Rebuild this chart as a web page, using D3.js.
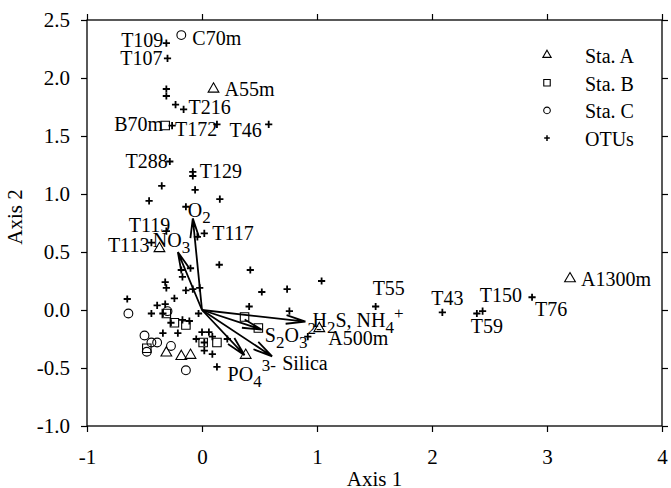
<!DOCTYPE html>
<html>
<head>
<meta charset="utf-8">
<script src="https://cdn.jsdelivr.net/npm/d3@7"></script>
<style>
  body { margin: 0; background: #fff; }
  text { font-family: "Liberation Serif", "DejaVu Serif", serif; fill: #000; }
</style>
</head>
<body>
<div id="chart-area"></div>
<script>
const WIDTH = 671;
const HEIGHT = 488;

// sample scores (Axis 1, Axis 2)
const staA = [[0.10, 1.905], [3.20, 0.27], [1.02, -0.16], [-0.37, 0.53],
  [-0.31, -0.37], [-0.18, -0.40], [-0.10, -0.39], [0.38, -0.39]];
const staB = [[-0.32, 1.59], [0.37, -0.06], [0.49, -0.155], [-0.31, -0.03],
  [-0.24, -0.11], [-0.14, -0.13], [0.01, -0.28], [0.13, -0.28], [-0.48, -0.33]];
const staC = [[-0.18, 2.37], [-0.64, -0.03], [-0.50, -0.22], [-0.44, -0.28],
  [-0.39, -0.28], [-0.48, -0.36], [-0.27, -0.31], [-0.14, -0.52], [-0.30, -0.01]];
const otus = [[-0.31, 2.30], [-0.30, 2.17], [-0.31, 1.905], [-0.31, 1.845], [-0.23, 1.77],
  [-0.16, 1.73], [-0.26, 1.59], [0.13, 1.60], [0.58, 1.60], [-0.28, 1.28], [-0.08, 1.19],
  [-0.08, 1.155], [-0.35, 1.07], [-0.06, 1.035], [-0.46, 0.94], [0.155, 0.955], [-0.14, 0.89],
  [-0.31, 0.68], [-0.44, 0.58], [0.02, 0.66], [-0.04, 0.63], [0.15, 0.39], [0.42, 0.345],
  [0.52, 0.155], [0.74, 0.18], [1.04, 0.25], [0.41, 0.03], [0.76, -0.01], [-0.65, 0.095],
  [-0.18, 0.345], [-0.17, 0.285], [-0.10, 0.36], [-0.32, 0.24], [-0.31, 0.19], [-0.24, 0.10],
  [-0.14, 0.17], [-0.08, 0.18], [-0.02, 0.19], [-0.32, 0.05], [-0.39, 0.04], [-0.44, -0.03],
  [-0.34, -0.03], [-0.03, -0.03], [-0.27, -0.11], [-0.11, -0.095], [-0.34, -0.20],
  [-0.21, -0.20], [0.00, -0.19], [0.06, -0.19], [-0.05, -0.25], [0.02, -0.28], [0.22, -0.25],
  [0.02, -0.35], [0.09, -0.38], [0.13, -0.49], [0.92, -0.23], [1.51, 0.03], [2.09, -0.02],
  [2.39, -0.03], [2.44, -0.01], [2.87, 0.11], [0.09, -0.23], [-0.17, -0.085]];

// environmental vectors
const vectors = [
  {name: "O2", x: -0.08, y: 0.79},
  {name: "NO3", x: -0.21, y: 0.50},
  {name: "H2S", x: 0.90, y: -0.10},
  {name: "S2O3", x: 0.52, y: -0.17},
  {name: "PO4", x: 0.37, y: -0.39},
  {name: "Silica", x: 0.61, y: -0.40}
];

// point labels
const pointLabels = [
  ["T109", -0.31, 2.30], ["C70m", -0.18, 2.37], ["T107", -0.30, 2.17], ["A55m", 0.10, 1.905],
  ["T216", -0.16, 1.73], ["B70m", -0.32, 1.59], ["T172", -0.26, 1.59], ["T46", 0.58, 1.60],
  ["T288", -0.28, 1.28], ["T129", -0.08, 1.19], ["T119", -0.31, 0.68], ["T113", -0.44, 0.58],
  ["T117", 0.02, 0.66], ["T55", 1.51, 0.03], ["T43", 2.09, -0.02], ["T59", 2.39, -0.03],
  ["T150", 2.87, 0.11], ["T76", 2.87, 0.11], ["A1300m", 3.20, 0.27], ["A500m", 1.02, -0.16]
];

const xTicks = [-1, 0, 1, 2, 3, 4];
const yTicks = [-1.0, -0.5, 0.0, 0.5, 1.0, 1.5, 2.0, 2.5];
const legendItems = ["Sta. A", "Sta. B", "Sta. C", "OTUs"];

const margin = {top: 20, left: 87};
const graphWidth = 575;
const graphHeight = 406;

const svg = d3.select("#chart-area").append("svg")
  .attr("width", WIDTH)
  .attr("height", HEIGHT);

const graph = svg.append("g")
  .attr("transform", `translate(${margin.left}, ${margin.top})`);

const x = d3.scaleLinear().domain([-1, 4]).range([0, graphWidth]);
const y = d3.scaleLinear().domain([-1, 2.5]).range([graphHeight, 0]);

// axes (ticks pointing out on all four sides)
const styleAxis = g => {
  g.select(".domain").remove();
  g.selectAll("line").attr("stroke", "#000").attr("stroke-width", 1.2);
  g.selectAll("text").attr("font-size", "21px").attr("font-family", "Liberation Serif");
};

graph.append("g")
  .call(d3.axisLeft(y).tickValues(yTicks).tickFormat(d => d.toFixed(1)).tickSize(6).tickPadding(11))
  .call(styleAxis);
graph.append("g")
  .attr("transform", `translate(0, ${graphHeight})`)
  .call(d3.axisBottom(x).tickValues(xTicks).tickFormat(d => String(d)).tickSize(6).tickPadding(17))
  .call(styleAxis);
graph.append("g")
  .attr("transform", `translate(${graphWidth}, 0)`)
  .call(d3.axisRight(y).tickValues(yTicks).tickFormat("").tickSize(6))
  .call(styleAxis);
graph.append("g")
  .call(d3.axisTop(x).tickValues(xTicks).tickFormat("").tickSize(6))
  .call(styleAxis);

graph.append("rect")
  .attr("width", graphWidth)
  .attr("height", graphHeight)
  .attr("fill", "none")
  .attr("stroke", "#000")
  .attr("stroke-width", 1.3);

// axis titles
graph.append("text")
  .attr("x", graphWidth / 2)
  .attr("y", graphHeight + 60)
  .attr("font-size", "21px")
  .attr("text-anchor", "middle")
  .text("Axis 1");

graph.append("text")
  .attr("transform", "rotate(-90)")
  .attr("x", -(graphHeight / 2) + 6)
  .attr("y", -65)
  .attr("font-size", "21px")
  .attr("text-anchor", "middle")
  .text("Axis 2");

// vectors with open arrow heads
const x0 = x(0), y0 = y(0);
const headLen = 20, headAng = 0.22;
const arrows = graph.append("g").attr("stroke", "#000").attr("stroke-width", 1.8).attr("fill", "none");
vectors.forEach(v => {
  const tx = x(v.x), ty = y(v.y);
  const a = Math.atan2(ty - y0, tx - x0);
  const p = d3.path();
  p.moveTo(x0, y0);
  p.lineTo(tx, ty);
  [-headAng, headAng].forEach(s => {
    p.moveTo(tx, ty);
    p.lineTo(tx - headLen * Math.cos(a + s), ty - headLen * Math.sin(a + s));
  });
  arrows.append("path").attr("d", p.toString());
});

// markers
const sym = (type, size) => d3.symbol().type(type).size(size)();
const markers = graph.append("g").attr("fill", "none").attr("stroke", "#000").attr("stroke-width", 1.1);

markers.selectAll(".staA").data(staA).enter().append("path")
  .attr("d", sym(d3.symbolTriangle, 50))
  .attr("transform", d => `translate(${x(d[0])}, ${y(d[1])})`);
markers.selectAll(".staB").data(staB).enter().append("path")
  .attr("d", sym(d3.symbolSquare, 72))
  .attr("transform", d => `translate(${x(d[0])}, ${y(d[1])})`);
markers.selectAll(".staC").data(staC).enter().append("circle")
  .attr("r", 4.4)
  .attr("cx", d => x(d[0]))
  .attr("cy", d => y(d[1]));

const plus = r => `M${-r},0H${r}M0,${-r}V${r}`;
markers.selectAll(".otu").data(otus).enter().append("path")
  .attr("d", plus(3.6))
  .attr("stroke-width", 1.8)
  .attr("transform", d => `translate(${x(d[0])}, ${y(d[1])})`);

// label layout: [dx, dy, anchor]
const labelOffset = {
  T109: [-3, 4, "end"], C70m: [11, 10, "start"], T107: [-5, 7, "end"], A55m: [11, 7, "start"],
  T216: [5, 5, "start"], B70m: [-2, 5, "end"], T172: [3, 10, "start"], T46: [-7, 13, "end"],
  T288: [-2, 6, "end"], T129: [7, 6, "start"], T119: [4, 1, "end"], T113: [-2, 9, "end"],
  T117: [8, 7, "start"], T55: [-3, -12, "start"], T43: [-11, -7, "start"], T59: [-6, 20, "start"],
  T150: [-10, 5, "end"], T76: [3, 19, "start"], A1300m: [11, 7, "start"], A500m: [9, 16, "start"]
};

graph.append("g").selectAll("text").data(pointLabels).enter().append("text")
  .attr("x", d => x(d[1]) + labelOffset[d[0]][0])
  .attr("y", d => y(d[2]) + labelOffset[d[0]][1])
  .attr("text-anchor", d => labelOffset[d[0]][2])
  .attr("font-size", "20px")
  .text(d => d[0]);

// vector labels with sub/superscripts
const vecText = {
  O2: {off: [-5, -1], parts: [["O", 0], ["2", 6]]},
  NO3: {off: [-25, -5], parts: [["NO", 0], ["3", 6]]},
  H2S: {off: [7, 5], parts: [["H", 0], ["2", 6], ["S, NH", -6], ["4", 6], ["+", -14]]},
  S2O3: {off: [3, 12], parts: [["S", 0], ["2", 6], ["O", -6], ["3", 6], ["2-", -14]]},
  PO4: {off: [-17, 26], parts: [["PO", 0], ["4", 6], ["3-", -16]]},
  Silica: {off: [10, 14], parts: [["Silica", 0]]}
};

vectors.forEach(v => {
  const spec = vecText[v.name];
  const t = graph.append("text")
    .attr("x", x(v.x) + spec.off[0])
    .attr("y", y(v.y) + spec.off[1])
    .attr("font-size", "20px");
  spec.parts.forEach(([s, dy]) => {
    t.append("tspan")
      .attr("dy", dy)
      .attr("font-size", /^[0-9+-]+$/.test(s) ? "17px" : "20px")
      .text(s);
  });
});

// legend
const legend = svg.append("g").attr("transform", "translate(547, 55)");
const legendMarks = [
  sym(d3.symbolTriangle, 30), sym(d3.symbolSquare, 42), null, plus(2.8)
];
legendItems.forEach((name, i) => {
  const row = legend.append("g").attr("transform", `translate(0, ${i * 27.7})`);
  if (legendMarks[i]) {
    row.append("path").attr("d", legendMarks[i])
      .attr("fill", "none").attr("stroke", "#000")
      .attr("stroke-width", i === 3 ? 1.5 : 1.1);
  } else {
    row.append("circle").attr("r", 3.3).attr("fill", "none").attr("stroke", "#000").attr("stroke-width", 1.1);
  }
  row.append("text")
    .attr("x", 38)
    .attr("y", 8)
    .attr("font-size", "20px")
    .text(name);
});
</script>
</body>
</html>
